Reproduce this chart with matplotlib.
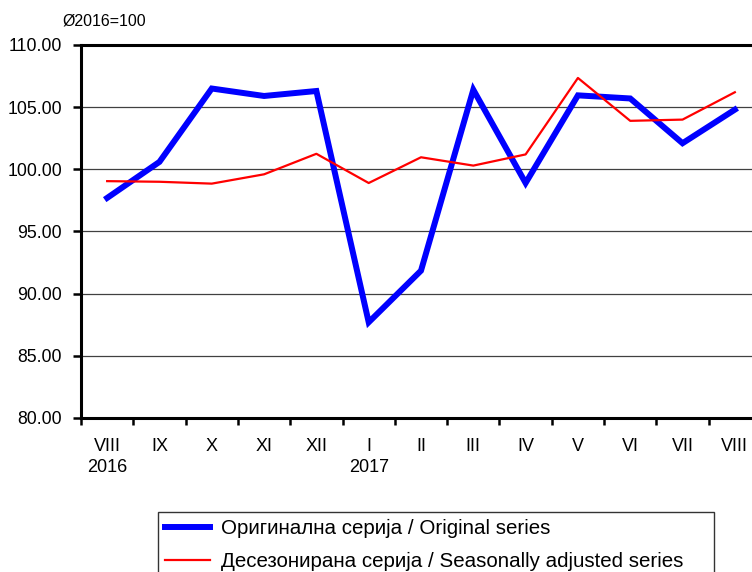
import matplotlib.pyplot as plt
from matplotlib.ticker import FormatStrFormatter

plt.rcParams['font.family'] = ['Liberation Sans', 'DejaVu Sans']

# data
months = ['VIII\n2016', 'IX', 'X', 'XI', 'XII', 'I\n2017', 'II', 'III', 'IV',
          'V', 'VI', 'VII', 'VIII']
original = [97.7, 100.6, 106.5, 105.9, 106.3, 87.7, 91.85, 106.4, 98.9,
            105.95, 105.7, 102.1, 104.8]
seasonal = [99.05, 99.0, 98.85, 99.6, 101.25, 98.9, 100.97, 100.3, 101.2,
            107.35, 103.9, 104.0, 106.2]

W, H = 752, 572
fig = plt.figure(figsize=(W / 100, H / 100), dpi=100)
# plot area runs past the right edge of the image, as in the original
ax = fig.add_axes([81 / W, 1 - 418 / H, 680 / W, (418 - 45) / H])

x = list(range(len(months)))
l1, = ax.plot(x, original, color='#0000ff', linewidth=4.3,
              solid_joinstyle='miter', label='Оригинална серија / Original series')
l2, = ax.plot(x, seasonal, color='#ff0000', linewidth=1.6,
              label='Десезонирана серија / Seasonally adjusted series')

ax.set_xlim(-0.5, len(months) - 0.5)
ax.set_ylim(80, 110)
ax.set_yticks(range(80, 111, 5))
ax.yaxis.set_major_formatter(FormatStrFormatter('%.2f'))
ax.grid(axis='y', color='#404040', linewidth=0.9)
ax.set_axisbelow(True)

# ticks at category boundaries, labels in the middle
ax.set_xticks([i - 0.5 for i in range(len(months) + 1)])
ax.set_xticklabels([])
ax.set_xticks(x, minor=True)
ax.set_xticklabels(months, minor=True, linespacing=1.3)
ax.tick_params(axis='x', which='major', length=5, width=1.8, direction='out')
ax.tick_params(axis='x', which='minor', length=0, pad=14.5, labelsize=13)
ax.tick_params(axis='y', length=6, width=1.8, pad=7.5, labelsize=12.7)

for s in ['left', 'bottom', 'top']:
    ax.spines[s].set_linewidth(2.2)
    ax.spines[s].set_color('black')
ax.spines['right'].set_visible(False)

fig.text(62 / W, 1 - 21 / H, 'Ø2016=100', fontsize=11.5, va='center', ha='left')

top = 1 - 512 / H
leg = fig.legend(handles=[l1, l2], loc='upper left',
                 bbox_to_anchor=(158 / W, top - 0.01, (714 - 158) / W, 0.01),
                 mode='expand', fontsize=14.8, frameon=True, fancybox=False,
                 edgecolor='black', handlelength=2.2, handletextpad=0.5,
                 labelspacing=0.68, borderpad=0.35, borderaxespad=0)
leg.get_frame().set_linewidth(1.0)

plt.savefig('out.png', dpi=100)
